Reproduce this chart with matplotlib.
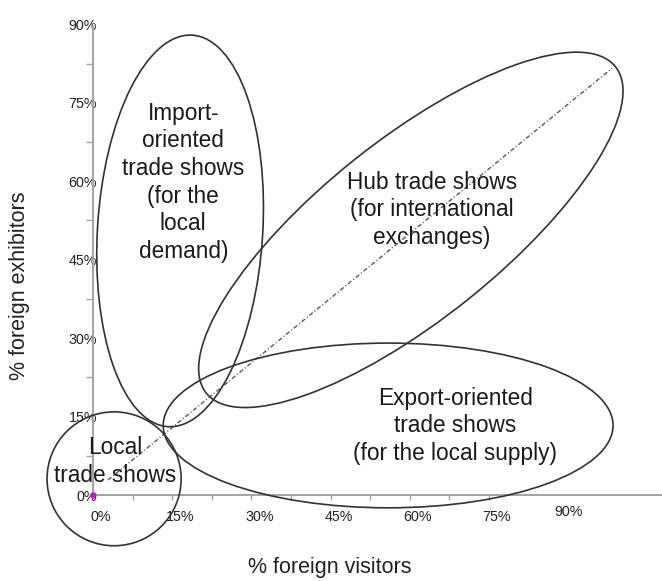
import matplotlib
matplotlib.use("Agg")
import matplotlib.pyplot as plt
from matplotlib.patches import Ellipse
from matplotlib.transforms import ScaledTranslation

plt.rcParams['font.family'] = ['Liberation Sans', 'DejaVu Sans']

# ---- data (percent units) ----
x_tick_values = [0, 15, 30, 45, 60, 75, 90]
x_tick_labels = ["0%", "15%", "30%", "45%", "60%", "75%", "90%"]
y_tick_values = [0, 15, 30, 45, 60, 75, 90]
y_tick_labels = ["0%", "15%", "30%", "45%", "60%", "75%", "90%"]
x_minor_ticks = [7.5, 15, 22.5, 30, 37.5, 45, 52.5, 60, 67.5, 75]
y_minor_ticks = [7.5, 22.5, 37.5, 52.5, 67.5, 82.5]

# clusters: name, centre x, centre y, width, height, angle
cluster_names = ["Import", "Hub", "Export", "Local"]
cluster_cx = [16.5, 60.2, 55.9, 4.0]
cluster_cy = [50.5, 50.7, 13.3, 3.1]
cluster_w = [31.3, 99.5, 85.2, 25.4]
cluster_h = [75.0, 34.3, 31.5, 25.6]
cluster_angle = [-3.5, 38.9, 0.0, 0.0]

label_texts = ["Import-\noriented\ntrade shows\n(for the\nlocal\ndemand)",
               "Hub trade shows\n(for international\nexchanges)",
               "Export-oriented\ntrade shows\n(for the local supply)",
               "Local\ntrade shows"]
label_x = [17.1, 64.2, 68.6, 4.2]
label_y = [59.8, 54.5, 13.2, 6.4]

diag_x = [2.84, 98.3]
diag_y = [2.87, 81.6]

# ---- figure ----
fig = plt.figure(figsize=(6.62, 5.81), dpi=100)
ax = fig.add_axes([0, 0, 1, 1])
ax.set_xlim(-17.61, 107.77)
ax.set_ylim(-16.44, 94.65)
ax.patch.set_alpha(0)

axis_color = "#a3a3a3"
for s in ["top", "right"]:
    ax.spines[s].set_visible(False)
ax.spines["left"].set_position(("data", 0))
ax.spines["bottom"].set_position(("data", 0))
ax.spines["left"].set_bounds(0, 89.5)
ax.spines["bottom"].set_bounds(0, 107.77)
for s in ["left", "bottom"]:
    ax.spines[s].set_color(axis_color)
    ax.spines[s].set_linewidth(1.4)

ax.set_xticks(x_tick_values, x_tick_labels)
ax.set_yticks(y_tick_values, y_tick_labels)
ax.set_xticks(x_minor_ticks, minor=True)
ax.set_yticks(y_minor_ticks, minor=True)
ax.xaxis.remove_overlapping_locs = False
ax.yaxis.remove_overlapping_locs = False
ax.tick_params(axis="x", which="major", length=0, pad=11, labelsize=10.3, labelcolor="#222222")
ax.tick_params(axis="y", which="major", length=0, pad=-3, labelsize=10.3, labelcolor="#222222")
ax.tick_params(axis="x", which="minor", length=3.5, width=1, color=axis_color, direction="out")
ax.tick_params(axis="y", which="minor", length=5, width=1, color=axis_color, direction="out")

for lab in ax.get_xticklabels():
    if lab.get_text() == "90%":
        off = ScaledTranslation(0, 5 / 100, fig.dpi_scale_trans)
    else:
        off = ScaledTranslation(8 / 100, 0, fig.dpi_scale_trans)
    lab.set_transform(lab.get_transform() + off)

# diagonal
ax.plot(diag_x, diag_y, color="#5a5a5a", lw=1.0, ls=(0, (3.2, 1.6, 0.8, 1.6)), zorder=2)

# clusters
for cx, cy, w, h, a in zip(cluster_cx, cluster_cy, cluster_w, cluster_h, cluster_angle):
    ax.add_patch(Ellipse((cx, cy), w, h, angle=a, fill=False, edgecolor="#333333",
                         lw=1.2, clip_on=False, zorder=3))

for t, x, y in zip(label_texts, label_x, label_y):
    ax.text(x, y, t, ha="center", va="center", fontsize=16.3, color="#1a1a1a",
            linespacing=1.26, zorder=4)

# origin dot
ax.plot([0], [0], "o", color="#e000e0", ms=3.5, zorder=5, clip_on=False)

# axis titles
ax.text(44.9, -13.9, "% foreign visitors", ha="center", va="center", fontsize=15.5,
        color="#222222")
ax.text(-14.0, 40.0, "% foreign exhibitors", ha="center", va="center", fontsize=15.5,
        rotation=90, color="#222222")

fig.savefig("out.png", dpi=100)
